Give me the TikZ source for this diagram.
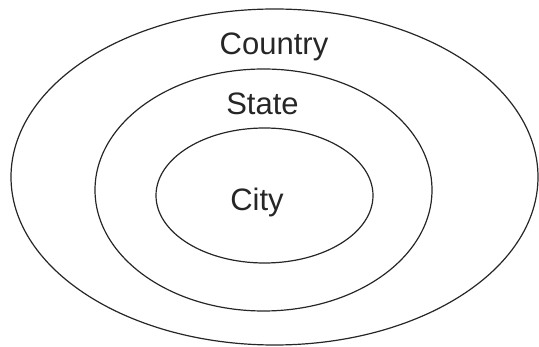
\documentclass[tikz,border=0pt]{standalone}
\usepackage{fontspec}
\setmainfont{Liberation Sans}
\begin{document}
\begin{tikzpicture}[x=1pt,y=-1pt,
  ring/.style={draw=black!85,line width=1.2pt},
  lbl/.style={anchor=base,inner sep=0pt,text=black!85,font=\fontsize{31}{36}\selectfont}]
\useasboundingbox (0,0) rectangle (539,347);
\draw[ring] (274.5,177) ellipse [x radius=263.5, y radius=168];
\draw[ring] (263.5,190) ellipse [x radius=168.5, y radius=121];
\draw[ring] (264.5,195.5) ellipse [x radius=108.5, y radius=67.5];
\node[lbl] (country) at (274,55) {Country};
\node[lbl] (state) at (262.5,115) {State};
\node[lbl] (city) at (257,211) {City};
\end{tikzpicture}
\end{document}
